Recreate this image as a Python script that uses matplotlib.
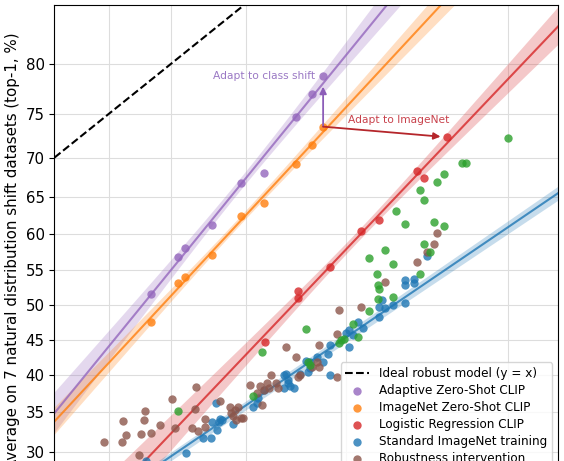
import numpy as np
import matplotlib
matplotlib.use("Agg")
import matplotlib.pyplot as plt

# top-1 accuracy (%)
# x: class subsampled ImageNet, y: mean over 7 natural distribution shift sets
clip_x = [78.5, 80.5, 81.0, 82.9, 84.7, 86.0, 87.7, 88.5, 89.0]
adaptive_y = [51.6, 56.8, 58.1, 61.3, 66.9, 68.1, 74.7, 77.1, 78.9]
zeroshot_y = [47.5, 53.2, 54.0, 57.1, 62.5, 64.3, 69.2, 71.5, 73.6]

logreg_x = [86.1, 87.8, 87.8, 89.3, 90.6, 91.3, 92.6, 92.8, 93.5]
logreg_y = [44.7, 52.0, 51.0, 55.4, 60.5, 62.0, 68.4, 67.5, 72.4]

std_x = [78.1, 81.1, 82.3, 82.8, 83.2, 82.9, 83.4, 83.1, 83.3, 84.2, 83.5,
         85.4, 85.7, 86.0, 85.6, 87.2, 87.4, 87.9, 88.3, 88.4, 88.7, 89.2,
         89.3, 89.3, 90.1, 90.1, 90.7, 88.2, 87.1, 87.3, 90.5, 90.0, 89.0,
         88.4, 87.6, 87.1, 87.3, 92.9, 92.2, 92.2, 92.5, 92.5, 91.4, 91.3,
         91.5, 91.8, 92.2, 91.3, 90.3]
std_y = [28.9, 29.9, 31.7, 31.7, 32.8, 33.8, 34.1, 36.3, 33.8, 33.5, 34.0,
         35.7, 36.9, 38.0, 36.2, 40.2, 38.6, 40.2, 40.4, 41.8, 42.6, 43.0,
         44.2, 40.0, 43.9, 46.4, 46.7, 42.0, 38.2, 39.4, 47.5, 45.9, 41.8,
         41.0, 38.3, 40.0, 38.9, 57.0, 53.6, 52.9, 53.7, 53.2, 50.7, 49.7,
         49.6, 50.0, 50.3, 48.3, 45.7]
# trend of the standard models in logit space (fit includes models off this view)
std_fit = (0.845, -2.043)      # slope, intercept
std_band = (0.025, 0.0175)     # half width at 80 %, growth per logit unit

robust_x = [74.6, 76.2, 76.5, 76.1, 78.0, 77.9, 77.7, 78.5, 79.2, 80.1, 80.3,
            77.5, 81.8, 81.7, 82.4, 81.5, 81.9, 82.4, 83.4, 84.0, 84.5, 84.2,
            84.7, 84.3, 85.2, 85.8, 86.2, 86.7, 86.0, 86.3, 86.8, 85.6, 85.9,
            86.4, 87.2, 87.7, 88.8, 89.6, 87.8, 87.9, 88.7, 88.8, 89.6, 88.5,
            89.7, 90.6, 91.5, 92.6, 92.9, 93.1, 93.2, 84.1, 84.8, 84.4]
robust_y = [31.2, 33.9, 32.1, 31.2, 35.2, 34.0, 32.2, 32.4, 33.4, 36.8, 33.0,
            29.6, 38.4, 35.4, 34.2, 33.0, 32.6, 33.1, 36.5, 35.7, 35.7, 34.6,
            34.3, 35.3, 38.7, 38.5, 38.9, 38.9, 38.0, 38.3, 38.3, 37.6, 36.0,
            40.0, 43.9, 42.6, 44.2, 45.8, 39.7, 40.0, 41.8, 41.1, 39.8, 41.2,
            49.3, 49.7, 53.3, 56.2, 57.6, 58.7, 60.2, 34.9, 34.3, 34.0]

more_x = [80.5, 85.4, 85.9, 88.2, 88.3, 88.4, 89.8, 89.7, 89.9, 90.5, 90.3,
          90.9, 91.25, 91.8, 91.3, 91.25, 91.2, 92.7, 91.8, 93.0, 91.5, 90.9,
          92.8, 93.4, 93.1, 92.2, 91.9, 92.8, 92.7, 93.2, 93.4, 94.0, 93.9,
          95.0]
more_y = [35.2, 37.2, 43.3, 46.5, 41.8, 41.5, 44.9, 44.6, 45.1, 45.4, 47.2,
          49.1, 50.8, 51.1, 52.3, 52.9, 54.4, 54.4, 55.9, 57.6, 57.8, 56.7,
          58.7, 61.1, 61.7, 61.4, 63.2, 64.7, 65.9, 67.0, 68.0, 69.3, 69.3,
          72.3]


def fwd(p):
    p = np.clip(np.asarray(p, float), 1e-6, 100 - 1e-6)
    return np.log(p / (100 - p))


def inv(z):
    return 100 / (1 + np.exp(-np.asarray(z, float)))


XLIM = (70, 96)
lx = np.linspace(fwd(XLIM[0]), fwd(XLIM[1]), 300)


def fit_band(x, y):
    """linear fit in logit space with a 95 % band for the mean"""
    a, b = fwd(x), fwd(y)
    k, c = np.polyfit(a, b, 1)
    res = b - (k * a + c)
    n = len(a)
    s = np.sqrt(np.sum(res ** 2) / (n - 2))
    sxx = np.sum((a - a.mean()) ** 2)
    hw = 2.36 * s * np.sqrt(1 / n + (lx - a.mean()) ** 2 / sxx)
    return k * lx + c, hw


fig = plt.figure(figsize=(5.64, 4.61), dpi=100)
ax = fig.add_axes([0.0966, -0.0755, 0.8928, 1.0653])
ax.set_xscale("function", functions=(fwd, inv))
ax.set_yscale("function", functions=(fwd, inv))

colors = {"adapt": "#9467bd", "zs": "#ff7f0e", "lr": "#d62728",
          "std": "#1f77b4", "rob": "#8c564b", "more": "#2ca02c"}

ideal, = ax.plot(XLIM, XLIM, "k--", lw=1.5, zorder=2, label="Ideal robust model (y = x)")

for key, (x, y) in {"adapt": (clip_x, adaptive_y), "zs": (clip_x, zeroshot_y),
                    "lr": (logreg_x, logreg_y)}.items():
    line, hw = fit_band(x, y)
    ax.fill_between(inv(lx), inv(line - hw), inv(line + hw), color=colors[key],
                    alpha=0.25, lw=0, zorder=1)
    ax.plot(inv(lx), inv(line), color=colors[key], lw=1.5, alpha=0.8, zorder=2)

std_line = std_fit[0] * lx + std_fit[1]
std_hw = np.sqrt(std_band[0] ** 2 + (std_band[1] * (lx - fwd(80))) ** 2)
ax.fill_between(inv(lx), inv(std_line - std_hw), inv(std_line + std_hw),
                color=colors["std"], alpha=0.25, lw=0, zorder=1)
ax.plot(inv(lx), inv(std_line), color=colors["std"], lw=1.5, alpha=0.8, zorder=2)

kw = dict(s=36, alpha=0.8, linewidths=0, zorder=3)
h_ad = ax.scatter(clip_x, adaptive_y, color=colors["adapt"], label="Adaptive Zero-Shot CLIP", **kw)
h_zs = ax.scatter(clip_x, zeroshot_y, color=colors["zs"], label="ImageNet Zero-Shot CLIP", **kw)
h_lr = ax.scatter(logreg_x, logreg_y, color=colors["lr"], label="Logistic Regression CLIP", **kw)
h_std = ax.scatter(std_x, std_y, color=colors["std"], label="Standard ImageNet training", **kw)
h_rob = ax.scatter(robust_x, robust_y, color=colors["rob"], label="Robustness intervention", **kw)
h_more = ax.scatter(more_x, more_y, color=colors["more"], label="Trained with more data", **kw)

# arrows from the best zero-shot model
start = (clip_x[-1], zeroshot_y[-1])
ax.annotate("", xy=(clip_x[-1], adaptive_y[-1]), xytext=start,
            arrowprops=dict(arrowstyle="-|>", color="#8c5db8", lw=1.3,
                            shrinkA=0, shrinkB=8, mutation_scale=10), zorder=4)
ax.annotate("Adapt to class shift", xy=(clip_x[-1], adaptive_y[-1]), xytext=(-6, 0),
            textcoords="offset points", ha="right", va="center",
            fontsize=7.7, color="#9a78c4")
ax.annotate("", xy=(logreg_x[-1], logreg_y[-1]), xytext=start,
            arrowprops=dict(arrowstyle="-|>", color="#b5262b", lw=1.3,
                            shrinkA=0, shrinkB=5, mutation_scale=10), zorder=4)
ax.annotate("Adapt to ImageNet", xy=start, xytext=(18, 4.5),
            textcoords="offset points", ha="left", va="center",
            fontsize=7.7, color="#c8414b")

ax.set_xlim(*XLIM)
ax.set_ylim(25, 84.9)
ax.set_xticks([70, 75, 80, 85, 90, 95])
ax.set_yticks(list(range(30, 85, 5)))
ax.set_xticklabels([str(v) for v in [70, 75, 80, 85, 90, 95]])
ax.set_yticklabels([str(v) for v in range(30, 85, 5)])
ax.tick_params(labelsize=10.8)
ax.grid(True, color="#dddddd", lw=0.8)
ax.set_axisbelow(True)
ax.set_xlabel("Average on class subsampled ImageNet (top-1, %)", fontsize=10.8)
ax.set_ylabel("Average on 7 natural distribution shift datasets (top-1, %)", fontsize=10.8)

ax.legend(handles=[ideal, h_ad, h_zs, h_lr, h_std, h_rob, h_more],
          loc="lower right", bbox_to_anchor=(1.0, 0.006), fontsize=8.65,
          labelspacing=0.33, borderpad=0.4, handletextpad=0.8, borderaxespad=0.5)

fig.savefig("out.png", dpi=100)
